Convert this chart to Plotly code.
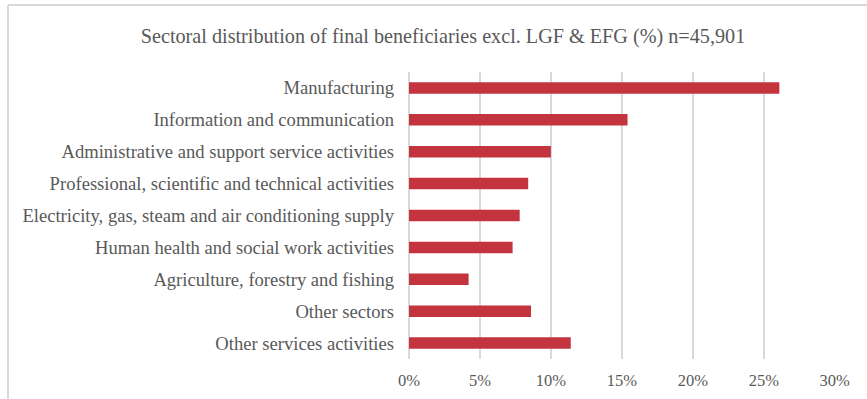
import plotly.graph_objects as go

# Sector shares of final beneficiaries (%), top to bottom
sectors = [
    "Manufacturing",
    "Information and communication",
    "Administrative and support service activities",
    "Professional, scientific and technical activities",
    "Electricity, gas, steam and air conditioning supply",
    "Human health and social work activities",
    "Agriculture, forestry and fishing",
    "Other sectors",
    "Other services activities",
]
shares = [26.1, 15.4, 10.0, 8.4, 7.8, 7.3, 4.2, 8.6, 11.4]
x_ticks = [0, 5, 10, 15, 20, 25, 30]
x_tick_labels = ["0%", "5%", "10%", "15%", "20%", "25%", "30%"]

TEXT = "#595959"
GRID = "#D9D9D9"
FONT = "Liberation Serif"

fig = go.Figure(
    go.Bar(
        x=shares,
        y=sectors,
        orientation="h",
        marker=dict(color="#C3343F", line=dict(width=0)),
        hoverinfo="x+y",
    )
)

W, H = 867, 399
L, R, T, B = 409, 32, 72, 40
pw, ph = W - L - R, H - T - B
frame_x = -401 / pw
frame_y = 1 + 67 / ph

fig.update_layout(
    width=W,
    height=H,
    margin=dict(l=L, r=R, t=T, b=B),
    paper_bgcolor="white",
    plot_bgcolor="white",
    bargap=0.64,
    showlegend=False,
    font=dict(family=FONT, color=TEXT, size=18),
    title=dict(
        text="Sectoral distribution of final beneficiaries excl. LGF &amp; EFG (%) n=45,901",
        x=443 / W,
        xanchor="center",
        y=1 - 36 / H,
        yanchor="middle",
        font=dict(family=FONT, size=20.2, color=TEXT),
    ),
    xaxis=dict(
        range=[0, 30.02],
        tickmode="array",
        tickvals=x_ticks,
        ticktext=x_tick_labels,
        showgrid=True,
        gridcolor=GRID,
        gridwidth=1.5,
        zeroline=True,
        zerolinecolor=GRID,
        zerolinewidth=1.5,
        showline=False,
        ticks="",
        ticklabelstandoff=9,
        automargin=False,
        tickfont=dict(family=FONT, size=16.5, color=TEXT),
        fixedrange=True,
    ),
    yaxis=dict(
        autorange="reversed",
        showgrid=False,
        zeroline=False,
        showline=False,
        ticks="",
        ticklabelstandoff=14,
        automargin=False,
        tickfont=dict(family=FONT, size=18.6, color=TEXT),
        fixedrange=True,
    ),
    shapes=[
        # Chart frame: top and left edges
        dict(type="line", xref="paper", yref="paper",
             x0=frame_x, x1=2, y0=frame_y, y1=frame_y,
             line=dict(color=GRID, width=2)),
        dict(type="line", xref="paper", yref="paper",
             x0=frame_x, x1=frame_x, y0=-2, y1=frame_y,
             line=dict(color=GRID, width=2)),
    ],
)

fig.write_html("out.html")
